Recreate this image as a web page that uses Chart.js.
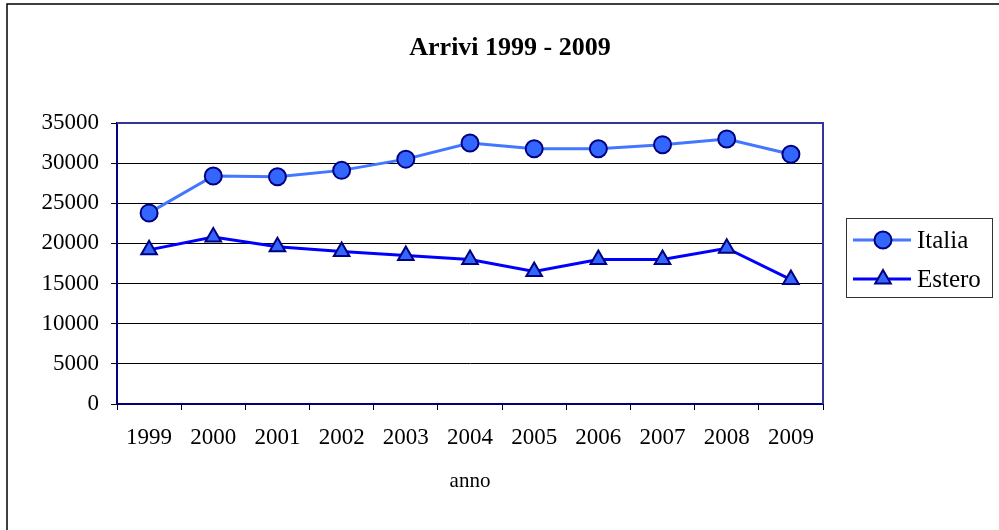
<!DOCTYPE html>
<html>
<head>
<meta charset="utf-8">
<script src="https://cdn.jsdelivr.net/npm/chart.js@4/dist/chart.umd.min.js"></script>
<style>
  html, body { margin: 0; padding: 0; background: #fff; }
  #wrap { width: 999px; height: 530px; }
</style>
</head>
<body>
<div id="wrap"><canvas id="arrivi-chart"></canvas></div>
<script>
let serif = '"Liberation Serif", "Times New Roman", serif';

let years = ["1999", "2000", "2001", "2002", "2003", "2004", "2005", "2006", "2007", "2008", "2009"];
let italia = [23800, 28400, 28300, 29100, 30500, 32500, 31800, 31800, 32300, 33000, 31100];
let estero = [19200, 20800, 19600, 19000, 18500, 18000, 16500, 18000, 18000, 19400, 15500];

let seriesNames = ["Italia", "Estero"];
let chartTitle = "Arrivi 1999 - 2009";
let xTitle = "anno";

// frame, title and legend drawn by hand, like the office chart
let framePlugin = {
  id: "frame",
  beforeDraw(chart) {
    let ctx = chart.ctx;
    ctx.save();
    ctx.fillStyle = "#fff";
    ctx.fillRect(0, 0, chart.width, chart.height);
    ctx.strokeStyle = "#000";
    ctx.lineWidth = 1.5;
    ctx.strokeRect(7, 4, 1100, 1100);
    ctx.fillStyle = "#000";
    ctx.font = "bold 26px " + serif;
    ctx.textAlign = "center";
    ctx.textBaseline = "middle";
    ctx.fillText(chartTitle, 510, 48);
    ctx.restore();
  },
  afterDatasetsDraw(chart) {
    let ctx = chart.ctx;
    let a = chart.chartArea;
    ctx.save();
    ctx.strokeStyle = "#333399";
    ctx.lineWidth = 2;
    ctx.beginPath();
    ctx.moveTo(a.left, a.top);
    ctx.lineTo(a.right, a.top);
    ctx.lineTo(a.right, a.bottom);
    ctx.stroke();

    // legend
    ctx.strokeStyle = "#333";
    ctx.lineWidth = 1;
    ctx.strokeRect(846.5, 218.5, 146, 79);
    let rows = [240, 279];
    chart.data.datasets.forEach((ds, i) => {
      let y = rows[i];
      ctx.strokeStyle = ds.borderColor;
      ctx.lineWidth = ds.borderWidth;
      ctx.beginPath();
      ctx.moveTo(853, y);
      ctx.lineTo(911, y);
      ctx.stroke();
      ctx.fillStyle = ds.pointBackgroundColor;
      ctx.strokeStyle = ds.pointBorderColor;
      ctx.lineWidth = ds.pointBorderWidth;
      ctx.beginPath();
      if (ds.pointStyle === "triangle") {
        let r = ds.pointRadius;
        ctx.moveTo(883, y - r);
        ctx.lineTo(883 + r * 0.866, y + r * 0.5);
        ctx.lineTo(883 - r * 0.866, y + r * 0.5);
        ctx.closePath();
      } else {
        ctx.arc(883, y, ds.pointRadius, 0, Math.PI * 2);
      }
      ctx.fill();
      ctx.stroke();
      ctx.fillStyle = "#000";
      ctx.font = "25px " + serif;
      ctx.textAlign = "left";
      ctx.textBaseline = "middle";
      ctx.fillText(ds.label, 917, y + 1);
    });
    ctx.restore();
  },
};

let arriviChart = new Chart("arrivi-chart", {
  type: "line",
  data: {
    labels: years,
    datasets: [
      {
        label: seriesNames[0],
        data: italia,
        borderColor: "#4477ff",
        borderWidth: 3,
        pointStyle: "circle",
        pointRadius: 8.5,
        pointBackgroundColor: "#3366ff",
        pointBorderColor: "#000080",
        pointBorderWidth: 2,
        tension: 0,
      },
      {
        label: seriesNames[1],
        data: estero,
        borderColor: "#0000ff",
        borderWidth: 3,
        pointStyle: "triangle",
        pointRadius: 9,
        pointBackgroundColor: "#3366ff",
        pointBorderColor: "#000080",
        pointBorderWidth: 2,
        tension: 0,
      },
    ],
  },
  options: {
    responsive: true,
    maintainAspectRatio: false,
    animation: false,
    layout: {
      padding: { left: 0, right: 176, top: 123, bottom: 0 },
    },
    plugins: {
      legend: { display: false },
      title: { display: false },
      tooltip: { enabled: false },
    },
    scales: {
      x: {
        offset: true,
        afterFit: (scale) => {
          scale.height = 126;
        },
        grid: {
          offset: true,
          drawOnChartArea: false,
          drawTicks: true,
          tickLength: 6,
          tickColor: "#000",
        },
        border: { color: "#000080", width: 2 },
        ticks: {
          color: "#000",
          padding: 14,
          maxRotation: 0,
          font: { family: serif, size: 23 },
        },
        title: {
          display: true,
          text: xTitle,
          color: "#000",
          font: { family: serif, size: 21 },
          padding: { top: 0, bottom: 36 },
        },
      },
      y: {
        min: 0,
        max: 35000,
        afterFit: (scale) => {
          scale.width = 117;
        },
        grid: {
          color: "#000",
          lineWidth: 1,
          tickLength: 6,
          tickColor: "#000",
        },
        border: { color: "#000080", width: 2 },
        ticks: {
          stepSize: 5000,
          color: "#000",
          padding: 12,
          font: { family: serif, size: 23 },
          callback: (value) => String(value),
        },
      },
    },
  },
  plugins: [framePlugin],
});
</script>
</body>
</html>
